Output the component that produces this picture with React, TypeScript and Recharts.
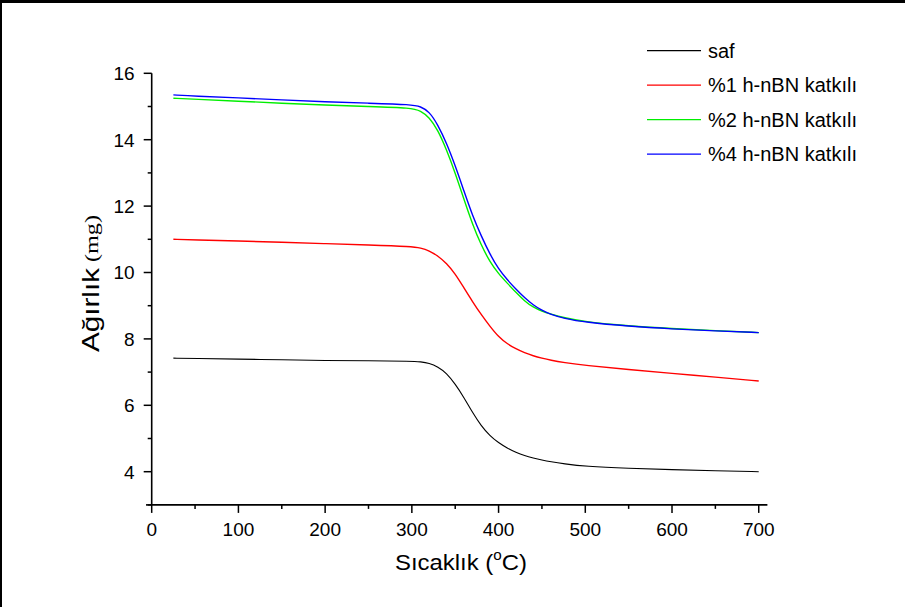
import { LineChart, Line, XAxis, YAxis } from 'recharts';

// temperature (°C) sampled along the curves
const temps = [25, 50, 100, 150, 200, 250, 300, 310, 320, 330, 340, 350, 360, 370, 380, 390, 400, 410, 420, 430, 440, 450, 460, 475, 500, 550, 600, 650, 700];

const saf = [7.42, 7.41, 7.39, 7.37, 7.35, 7.34, 7.33, 7.31, 7.27, 7.16, 6.97, 6.64, 6.24, 5.78, 5.38, 5.08, 4.87, 4.71, 4.58, 4.48, 4.41, 4.35, 4.3, 4.24, 4.16, 4.1, 4.06, 4.03, 4.0];
const bn1 = [11.0, 10.98, 10.95, 10.91, 10.87, 10.83, 10.78, 10.74, 10.66, 10.5, 10.28, 9.96, 9.54, 9.12, 8.73, 8.38, 8.06, 7.85, 7.7, 7.58, 7.49, 7.42, 7.36, 7.29, 7.2, 7.08, 6.96, 6.85, 6.73];
const bn2 = [15.25, 15.22, 15.16, 15.1, 15.04, 15.0, 14.96, 14.87, 14.68, 14.29, 13.7, 13.0, 12.21, 11.45, 10.82, 10.32, 9.96, 9.68, 9.4, 9.14, 8.95, 8.83, 8.75, 8.64, 8.51, 8.39, 8.31, 8.25, 8.19];
const bn4 = [15.35, 15.31, 15.26, 15.2, 15.14, 15.1, 15.06, 15.0, 14.85, 14.45, 13.9, 13.22, 12.46, 11.71, 11.1, 10.55, 10.1, 9.78, 9.5, 9.24, 9.02, 8.86, 8.74, 8.62, 8.5, 8.38, 8.3, 8.24, 8.19];

const xTicks = [0, 50, 100, 150, 200, 250, 300, 350, 400, 450, 500, 550, 600, 650, 700];
const yTicks = [3, 4, 5, 6, 7, 8, 9, 10, 11, 12, 13, 14, 15, 16];

const series = [
  { key: 'saf', name: 'saf', color: '#000000', width: 1.1 },
  { key: 'bn1', name: '%1 h-nBN katkılı', color: '#ff0000', width: 1.4 },
  { key: 'bn2', name: '%2 h-nBN katkılı', color: '#00ee00', width: 1.4 },
  { key: 'bn4', name: '%4 h-nBN katkılı', color: '#0000ff', width: 1.4 },
];

const data = temps.map((t, i) => ({ t, saf: saf[i], bn1: bn1[i], bn2: bn2[i], bn4: bn4[i] }));

const FONT = 'Arial, "Liberation Sans", sans-serif';
const SERIF = '"Liberation Serif", "Times New Roman", serif';

function YTick(props: any) {
  const { x, y, payload } = props;
  const major = payload.value % 2 === 0;
  return (
    <g>
      <line x1={x} x2={x - (major ? 8 : 4)} y1={y} y2={y} stroke="#000" strokeWidth={1.5} />
      {major && (
        <text x={x - 17} y={y + 6.8} textAnchor="end" fontSize={19} fontFamily={FONT} fill="#000">
          {payload.value}
        </text>
      )}
    </g>
  );
}

function XTick(props: any) {
  const { x, y, payload } = props;
  const major = payload.value % 100 === 0;
  return (
    <g>
      <line x1={x} x2={x} y1={y} y2={y + (major ? 8 : 4)} stroke="#000" strokeWidth={1.5} />
      {major && (
        <text x={x} y={y + 31} textAnchor="middle" fontSize={19} fontFamily={FONT} fill="#000">
          {payload.value}
        </text>
      )}
    </g>
  );
}

export default function App() {
  return (
    <div style={{ position: 'relative', width: 905, height: 607, background: '#fff' }}>
      <style>{`body{margin:0}`}</style>
      <LineChart
        width={905}
        height={607}
        data={data}
        margin={{ top: 73.3, right: 137.6, bottom: 62.1, left: 91.7 }}
      >
        <XAxis
          dataKey="t"
          type="number"
          domain={[0, 710]}
          ticks={xTicks}
          height={40}
          tickLine={false}
          tickSize={0}
          tickMargin={0}
          axisLine={{ stroke: '#000', strokeWidth: 1.6 }}
          tick={<XTick />}
          interval={0}
        />
        <YAxis
          type="number"
          domain={[3, 16]}
          ticks={yTicks}
          width={60}
          tickLine={false}
          tickSize={0}
          tickMargin={0}
          axisLine={{ stroke: '#000', strokeWidth: 1.6 }}
          tick={<YTick />}
          interval={0}
        />
        {series.map((s) => (
          <Line
            key={s.key}
            dataKey={s.key}
            name={s.name}
            type="basis"
            stroke={s.color}
            strokeWidth={s.width}
            dot={false}
            isAnimationActive={false}
          />
        ))}
      </LineChart>

      <svg
        width={905}
        height={607}
        style={{ position: 'absolute', left: 0, top: 0, pointerEvents: 'none' }}
      >
        {/* frame */}
        <line x1={0} x2={905} y1={1.5} y2={1.5} stroke="#000" strokeWidth={3} />
        <line x1={1} x2={1} y1={0} y2={607} stroke="#000" strokeWidth={2} />
        {/* x axis runs a little left of the y axis */}
        <line x1={146} x2={152} y1={504.9} y2={504.9} stroke="#000" strokeWidth={1.6} />

        {/* legend */}
        {series.map((s, i) => {
          const y = 50.7 + i * 34.5;
          return (
            <g key={s.key}>
              <line x1={647} x2={701} y1={y} y2={y} stroke={s.color} strokeWidth={1.2} />
              <text x={708} y={y + 7.2} fontSize={20} fontFamily={FONT} fill="#000">
                {s.name}
              </text>
            </g>
          );
        })}

        {/* x title */}
        <text
          x={395}
          y={570}
          fontSize={22}
          fontFamily={FONT}
          fill="#000"
          textLength={132}
          lengthAdjust="spacingAndGlyphs"
        >
          Sıcaklık (<tspan fontSize={14} dy={-10}>o</tspan>
          <tspan dy={10}>C)</tspan>
        </text>

        {/* y title */}
        <text
          transform="translate(99,352) rotate(-90)"
          fontSize={24}
          fontFamily={FONT}
          fill="#000"
          textLength={84}
          lengthAdjust="spacingAndGlyphs"
        >
          Ağırlık
        </text>
        <text
          transform="translate(98,262) rotate(-90)"
          fontSize={19}
          fontFamily={SERIF}
          fill="#000"
          textLength={47}
          lengthAdjust="spacingAndGlyphs"
        >
          (mg)
        </text>
      </svg>
    </div>
  );
}
